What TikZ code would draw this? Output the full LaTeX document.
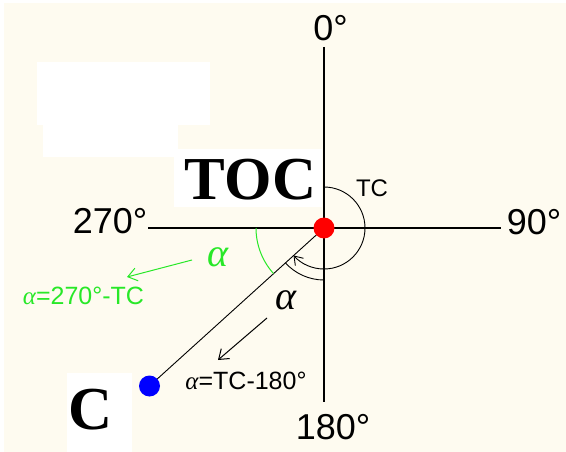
\documentclass[tikz,border=0pt]{standalone}
\usepackage{fontspec}
\setmainfont{Liberation Sans}
\newfontfamily\timesfont{Liberation Serif}
\usetikzlibrary{arrows.meta}
\definecolor{paper}{RGB}{254,251,240}
\definecolor{limegreen}{RGB}{40,232,40}
\tikzset{
    axis/.style={line width=1.6pt, black},
    ray/.style={line width=0.9pt, black},
    pointer/.style={-{Straight Barb[length=9pt,width=13pt]}, line width=1pt},
    pointdot/.style={circle, inner sep=0pt, minimum size=21pt},
    deglabel/.style={font=\fontsize{36}{40}\selectfont, inner sep=0pt},
    formula/.style={font=\fontsize{25}{28}\selectfont, inner sep=0pt},
    bigletter/.style={font=\timesfont\bfseries\fontsize{61}{64}\selectfont, inner sep=0pt}
}
\newcommand{\alfa}{{\timesfont\itshape α}}

\begin{document}
\begin{tikzpicture}[x=1pt, y=-1pt]
    \useasboundingbox (0,0) rectangle (566,452);
    % Фон
    \fill[white] (0,0) rectangle (566,452);
    \fill[paper] (4,3) rectangle (566,452);
    \fill[white] (37,62) rectangle (210,125);
    \fill[white] (43,120) rectangle (178,157);
    \fill[white] (174,149) rectangle (322,207);
    \fill[white] (67,373) rectangle (132,452);

    % Оси
    \coordinate (O) at (324,228);
    \coordinate (N) at (324,47);
    \coordinate (S) at (324,402);
    \coordinate (W) at (148,228);
    \coordinate (E) at (501,228);
    \draw[axis] (N) -- (S);
    \draw[axis] (W) -- (E);
    \node[deglabel] (n0) at (330.5,28) {0°};
    \node[deglabel] (n90) at (534,222.5) {90°};
    \node[deglabel] (n180) at (333,427) {180°};
    \node[deglabel] (n270) at (110,221.5) {270°};

    % Направление на C
    \coordinate (Cp) at (149.5,386);
    \draw[ray] (O) -- (Cp);

    % Углы
    \draw[ray, -{Straight Barb[length=8pt,width=11pt]}] ([shift={(-90:41)}]O)
        arc[start angle=-90, end angle=138, radius=41];
    \draw[ray] ([shift={(90:52)}]O) arc[start angle=90, end angle=138, radius=52];
    \draw[limegreen, line width=1pt] ([shift={(180:68)}]O)
        arc[start angle=180, end angle=138, radius=68];

    % Точки
    \node[pointdot, fill=red] (toc) at (O) {};
    \node[pointdot, fill=blue] (c) at (Cp) {};
    \node[bigletter] (toclabel) at (250.5,180) {TOC};
    \node[bigletter] (clabel) at (91,410) {C};
    \node[formula, font=\fontsize{24}{26}\selectfont] (tc) at (372,188) {TC};

    % Подписи углов
    \node[limegreen, font=\timesfont\itshape\fontsize{40}{42}\selectfont, inner sep=0pt]
        (agreen) at (217.5,257) {α};
    \coordinate (gfrom) at (192,260);
    \coordinate (gto) at (127,277);
    \draw[pointer, limegreen] (gfrom) -- (gto);
    \node[formula, limegreen] (fgreen) at (83.5,296) {\alfa=270°-TC};

    \node[font=\timesfont\itshape\fontsize{40}{42}\selectfont, inner sep=0pt]
        (ablack) at (286,300) {α};
    \coordinate (bfrom) at (267,318);
    \coordinate (bto) at (218,360);
    \draw[pointer] (bfrom) -- (bto);
    \node[formula] (fblack) at (246,381) {\alfa=TC-180°};
\end{tikzpicture}
\end{document}
